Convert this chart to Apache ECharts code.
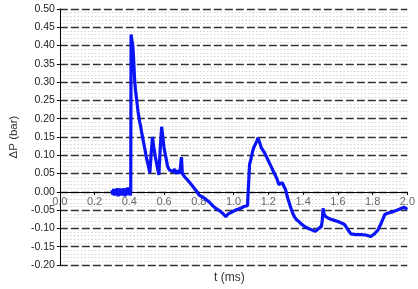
<!DOCTYPE html>
<html>
<head>
<meta charset="utf-8">
<script src="https://cdn.jsdelivr.net/npm/echarts@6/dist/echarts.min.js"></script>
<style>
  html, body { margin: 0; padding: 0; background: #fff; }
  #chart { width: 418px; height: 289px; }
</style>
</head>
<body>
<div id="chart"></div>
<script>
// 时间 (ms)
var times = [
  0.300, 0.305, 0.310, 0.315, 0.320, 0.325, 0.330, 0.335, 0.340, 0.345,
  0.350, 0.355, 0.360, 0.365, 0.370, 0.375, 0.380, 0.385, 0.390, 0.395,
  0.400, 0.405, 0.408, 0.410, 0.413, 0.416, 0.420, 0.425, 0.430, 0.435,
  0.440, 0.445, 0.450, 0.455, 0.460, 0.465, 0.470, 0.480, 0.490, 0.500,
  0.510, 0.518, 0.525, 0.533, 0.540, 0.550, 0.560, 0.570, 0.578, 0.586,
  0.595, 0.600, 0.610, 0.620, 0.630, 0.640, 0.650, 0.660, 0.670, 0.680,
  0.690, 0.700, 0.705, 0.710, 0.720, 0.730, 0.740, 0.750, 0.760, 0.770,
  0.780, 0.790, 0.800, 0.820, 0.840, 0.860, 0.880, 0.900, 0.920, 0.940,
  0.955, 0.970, 0.990, 1.000, 1.020, 1.040, 1.060, 1.080, 1.088, 1.092,
  1.100, 1.107, 1.115, 1.125, 1.135, 1.140, 1.150, 1.160, 1.170, 1.180,
  1.190, 1.200, 1.210, 1.220, 1.230, 1.240, 1.250, 1.260, 1.270, 1.280,
  1.290, 1.300, 1.310, 1.320, 1.330, 1.340, 1.350, 1.360, 1.375, 1.390,
  1.410, 1.430, 1.450, 1.470, 1.490, 1.505, 1.510, 1.515, 1.520, 1.530,
  1.545, 1.560, 1.580, 1.600, 1.620, 1.640, 1.650, 1.660, 1.675, 1.700,
  1.730, 1.760, 1.790, 1.810, 1.830, 1.850, 1.870, 1.890, 1.920, 1.950,
  1.980, 2.000
];
// ΔP (bar)
var pressure = [
  0.005, -0.008, 0.008, -0.010, 0.006, -0.006, 0.010, -0.012, 0.004, -0.008,
  0.009, -0.010, 0.006, -0.005, 0.010, -0.012, 0.008, -0.009, 0.012, -0.006,
  0.008, -0.010, 0.000, 0.430, 0.435, 0.410, 0.400, 0.360, 0.310, 0.280,
  0.260, 0.240, 0.220, 0.205, 0.190, 0.180, 0.165, 0.140, 0.115, 0.090,
  0.070, 0.052, 0.100, 0.150, 0.125, 0.095, 0.070, 0.046, 0.120, 0.178,
  0.140, 0.120, 0.095, 0.070, 0.060, 0.065, 0.055, 0.062, 0.050, 0.058,
  0.050, 0.095, 0.050, 0.045, 0.040, 0.035, 0.030, 0.025, 0.018, 0.012,
  0.006, 0.000, -0.008, -0.014, -0.020, -0.028, -0.038, -0.046, -0.052, -0.060,
  -0.068, -0.060, -0.055, -0.050, -0.048, -0.045, -0.040, -0.038, -0.035, 0.075,
  0.090, 0.106, 0.120, 0.130, 0.140, 0.148, 0.135, 0.120, 0.115, 0.105,
  0.095, 0.085, 0.075, 0.065, 0.055, 0.045, 0.035, 0.020, 0.018, 0.025,
  0.025, 0.005, -0.015, -0.030, -0.045, -0.058, -0.068, -0.075, -0.081, -0.088,
  -0.095, -0.100, -0.104, -0.108, -0.100, -0.095, -0.080, -0.045, -0.060, -0.068,
  -0.072, -0.075, -0.078, -0.081, -0.085, -0.090, -0.095, -0.105, -0.115, -0.117,
  -0.117, -0.118, -0.122, -0.115, -0.105, -0.085, -0.062, -0.058, -0.054, -0.048,
  -0.042, -0.048
];

var lineData = times.map(function (t, i) { return [t, pressure[i]]; });

var myChart = echarts.init(document.getElementById('chart'));
myChart.setOption({
  animation: false,
  textStyle: { fontFamily: 'Liberation Sans, Arial, sans-serif' },
  grid: { left: 56, right: 7, top: 9, bottom: 24, containLabel: false },
  xAxis: {
    type: 'value',
    min: 0,
    max: 2,
    interval: 0.2,
    position: 'bottom',
    offset: -73.1, // 横轴放在 0 线上
    z: 4,
    axisLine: { onZero: false, lineStyle: { color: '#000', width: 1.2 } },
    axisTick: { show: true, length: 3, lineStyle: { color: '#000' } },
    axisLabel: {
      color: '#666',
      fontSize: 11,
      margin: 5,
      formatter: function (v) { return v.toFixed(1); }
    },
    splitLine: { show: false }
  },
  yAxis: {
    type: 'value',
    min: -0.2,
    max: 0.5,
    interval: 0.05,
    name: 'ΔP (bar)',
    nameLocation: 'middle',
    nameGap: 38,
    nameTextStyle: { color: '#333', fontSize: 11.5 },
    axisLine: { show: true, lineStyle: { color: '#000', width: 1 } },
    axisTick: { show: true, length: 3, lineStyle: { color: '#000' } },
    axisLabel: {
      color: '#222',
      fontSize: 10.5,
      margin: 5,
      formatter: function (v) { return v.toFixed(2); }
    },
    splitLine: { show: true, lineStyle: { color: '#333', width: 1.3, type: [8, 3] } },
    minorTick: { show: false, splitNumber: 5 },
    minorSplitLine: { show: true, lineStyle: { color: '#d4d4d4', width: 1, type: [1.5, 2] } }
  },
  graphic: [{
    type: 'text',
    left: 214,
    top: 272,
    style: { text: 't (ms)', fill: '#333', fontSize: 12, fontFamily: 'Liberation Sans, Arial, sans-serif' }
  }],
  series: [{
    type: 'line',
    data: lineData,
    showSymbol: false,
    lineStyle: { color: '#0a14f5', width: 3.2 },
    z: 5,
    // 零线实线
    markLine: {
      silent: true,
      symbol: 'none',
      label: { show: false },
      lineStyle: { color: '#000', width: 1.2, type: 'solid' },
      z: 1,
      data: [{ yAxis: 0 }]
    }
  }]
});
</script>
</body>
</html>
